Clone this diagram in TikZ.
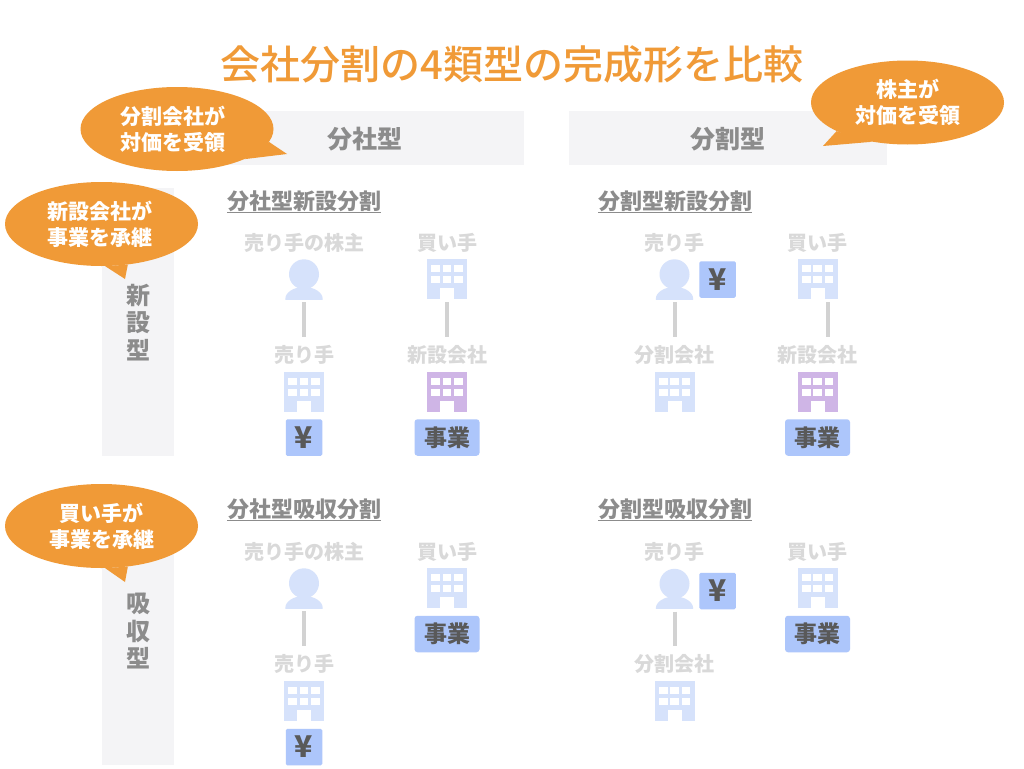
\documentclass[tikz,border=0pt]{standalone}
\usepackage{fontspec}
\setmainfont{Noto Sans CJK JP}
\newfontfamily\titlefont{Noto Sans CJK JP Medium}
\usetikzlibrary{shapes.geometric}
\definecolor{bubbleorange}{HTML}{F09A37}
\definecolor{barback}{HTML}{F4F4F6}
\definecolor{headgray}{HTML}{8C8C8C}
\definecolor{lightgray}{HTML}{D9D9D9}
\definecolor{linkgray}{HTML}{D2D2D2}
\definecolor{iconblue}{HTML}{D6E2FB}
\definecolor{iconpurple}{HTML}{CFB5E6}
\definecolor{assetblue}{HTML}{ADC6FB}
\definecolor{darktext}{HTML}{595959}
\tikzset{
	jp/.style={inner sep=0,font=\fontsize{#1}{#1}\selectfont\bfseries,text height=0.88*#1 pt,text depth=0.12*#1 pt},
	partylabel/.style={jp=20,text height=18.2,text depth=1.8,text=lightgray},
	subhead/.style={jp=22,text=headgray,anchor=west,append after command={(\tikzlastnode.south west) edge[draw=headgray,line width=1.3] (\tikzlastnode.south east)}},
	bar/.style={fill=barback},
	bubble/.style={shape=ellipse,inner sep=0,fill=bubbleorange,minimum width=193,minimum height=84,text=white,align=center,font=\fontsize{21}{26}\selectfont\bfseries},
	tail/.style={fill=bubbleorange},
	sidelabel/.style={inner sep=0,text=headgray,align=center,font=\fontsize{24}{27.5}\selectfont\bfseries},
	building/.style={rectangle,minimum size=40,inner sep=0,fill=#1,path picture={
		\foreach \i in {-11.3,0,11.3}{
			\foreach \j in {-11,0.5}{
				\fill[white] ([shift={(\i-4.3,\j-3.5)}]path picture bounding box.center) rectangle +(8.6,7);
			}
		}
		\fill[white] ([shift={(-7,9)}]path picture bounding box.center) rectangle +(14,11);
	}},
	person/.style={rectangle,minimum size=40,inner sep=0,path picture={
		\fill[iconblue] ([shift={(0,-4.7)}]path picture bounding box.center) circle[radius=15];
		\fill[iconblue] ([shift={(0,20)}]path picture bounding box.center) ellipse[x radius=18.7,y radius=12];
	}},
	yenbox/.style={rectangle,rounded corners=1.5,fill=assetblue,minimum size=36.5,inner sep=0,text=darktext,font=\fontsize{30}{30}\selectfont\bfseries},
	jigyobox/.style={rectangle,rounded corners=3,fill=assetblue,minimum width=65,minimum height=36.5,inner sep=0,text=darktext,font=\fontsize{23}{23}\selectfont\bfseries},
	link/.style={draw=linkgray,line width=3.6,shorten <=3,shorten >=7}
}
\begin{document}
\begin{tikzpicture}[x=1pt,y=-1pt]
	\useasboundingbox (0,0) rectangle (1024,768);
	\fill[white] (0,0) rectangle (1024,768);
	\node[jp=40,text=bubbleorange,font=\fontsize{40}{40}\selectfont\titlefont] (title) at (512,64) {会社分割の4類型の完成形を比較};
	\fill[bar] (206,111) rectangle (524,165);
	\fill[bar] (569,111) rectangle (887,165);
	\fill[bar] (102,188) rectangle (174,456);
	\fill[bar] (102,500) rectangle (174,765);
	\node[jp=25,text=headgray] (bunsha) at (365,139) {分社型};
	\node[jp=25,text=headgray] (bunkatsu) at (728,139) {分割型};
	\node[sidelabel] (shinsetsu) at (138,322.5) {新\\設\\型};
	\node[sidelabel] (kyushu) at (138,631) {吸\\収\\型};
	\node[bubble] (bubbleA) at (177,129) {\hspace*{-8pt}分割会社が\\\hspace*{-8pt}対価を受領};
	\fill[tail] (bubbleA.-8) -- (287,154) -- (bubbleA.-24) -- cycle;
	\node[bubble] (bubbleB) at (907.5,102.5) {株主が\\対価を受領};
	\fill[tail] (bubbleB.-158) -- (823,146) -- (bubbleB.-132) -- cycle;
	\node[bubble] (bubbleC) at (101.5,224) {\hspace*{-3pt}新設会社が\\\hspace*{-3pt}事業を承継};
	\fill[tail] (bubbleC.-85) -- (125,279) -- (bubbleC.-57) -- cycle;
	\node[bubble] (bubbleD) at (101.5,526) {買い手が\\事業を承継};
	\fill[tail] (bubbleD.-85) -- (125,582) -- (bubbleD.-57) -- cycle;

	\node[subhead] (subA) at (227,201) {分社型新設分割};
	\node[partylabel] (aOwnerLabel) at (304,242.5) {売り手の株主};
	\node[person] (aOwner) at (304,279) {};
	\node[partylabel] (aSellerLabel) at (304,354) {売り手};
	\node[building=iconblue] (aSeller) at (304,392) {};
	\node[yenbox] (aYen) at (304,437.5) {¥};
	\node[partylabel] (aBuyerLabel) at (447,242.5) {買い手};
	\node[building=iconblue] (aBuyer) at (447,279) {};
	\node[partylabel] (aNewLabel) at (447,354) {新設会社};
	\node[building=iconpurple] (aNew) at (447,392) {};
	\node[jigyobox] (aBiz) at (447,437.5) {事業};
	\draw[link] (aOwner.south) -- (aSellerLabel.north);
	\draw[link] (aBuyer.south) -- (aNewLabel.north);

	\node[subhead] (subB) at (598,201) {分割型新設分割};
	\node[partylabel] (bOwnerLabel) at (674.5,242.5) {売り手};
	\node[person] (bOwner) at (674.5,279) {};
	\node[yenbox] (bYen) at (717.5,279.5) {¥};
	\node[partylabel] (bSellerLabel) at (674.5,354) {分割会社};
	\node[building=iconblue] (bSeller) at (674.5,392) {};
	\node[partylabel] (bBuyerLabel) at (817.5,242.5) {買い手};
	\node[building=iconblue] (bBuyer) at (817.5,279) {};
	\node[partylabel] (bNewLabel) at (817.5,354) {新設会社};
	\node[building=iconpurple] (bNew) at (817.5,392) {};
	\node[jigyobox] (bBiz) at (817.5,437.5) {事業};
	\draw[link] ([xshift=0.5]bOwner.south) -- ([xshift=0.5]bSellerLabel.north);
	\draw[link] ([xshift=10.5]bBuyer.south) -- ([xshift=10.5]bNewLabel.north);

	\node[subhead] (subC) at (227,509) {分社型吸収分割};
	\node[partylabel] (cOwnerLabel) at (304,551.5) {売り手の株主};
	\node[person] (cOwner) at (304,588) {};
	\node[partylabel] (cSellerLabel) at (304,663) {売り手};
	\node[building=iconblue] (cSeller) at (304,701) {};
	\node[yenbox] (cYen) at (304,747) {¥};
	\node[partylabel] (cBuyerLabel) at (447,551.5) {買い手};
	\node[building=iconblue] (cBuyer) at (447,588) {};
	\node[jigyobox] (cBiz) at (447,634) {事業};
	\draw[link] (cOwner.south) -- (cSellerLabel.north);

	\node[subhead] (subD) at (598,509) {分割型吸収分割};
	\node[partylabel] (dOwnerLabel) at (674.5,551.5) {売り手};
	\node[person] (dOwner) at (674.5,588.5) {};
	\node[yenbox] (dYen) at (717.5,591) {¥};
	\node[partylabel] (dSellerLabel) at (674.5,663) {分割会社};
	\node[building=iconblue] (dSeller) at (674.5,701) {};
	\node[partylabel] (dBuyerLabel) at (817.5,551.5) {買い手};
	\node[building=iconblue] (dBuyer) at (817.5,588) {};
	\node[jigyobox] (dBiz) at (817.5,634) {事業};
	\draw[link] ([xshift=0.5]dOwner.south) -- ([xshift=0.5]dSellerLabel.north);
\end{tikzpicture}
\end{document}
